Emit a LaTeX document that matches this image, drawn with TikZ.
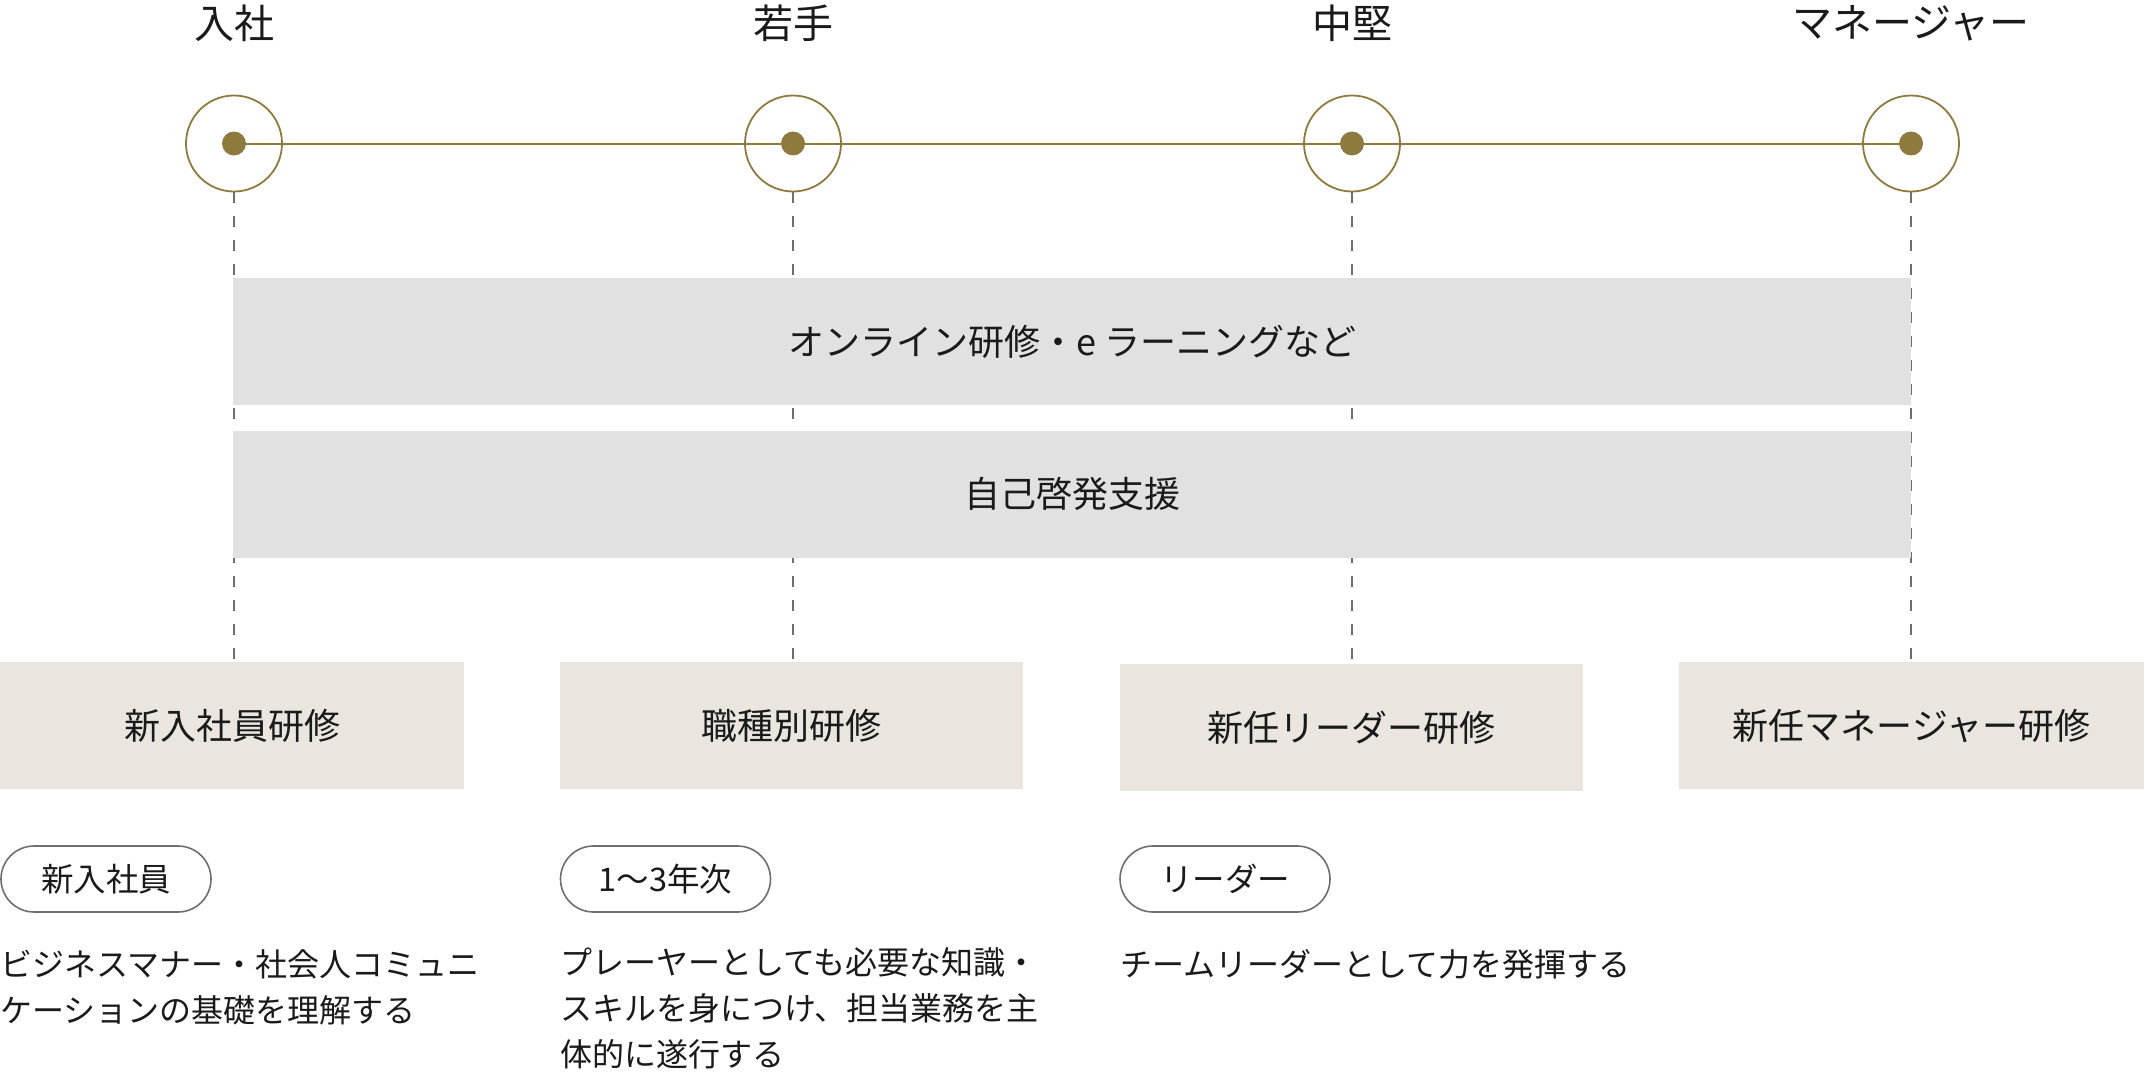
\documentclass[tikz,border=0pt]{standalone}
\usepackage{fontspec}
\setmainfont{Noto Sans CJK JP}
\definecolor{gold}{HTML}{8F7A3D}
\definecolor{bandgray}{HTML}{E1E1E1}
\definecolor{beige}{HTML}{EAE6DF}
\definecolor{dashgray}{HTML}{6E6E6E}
\definecolor{txt}{HTML}{1A1A1A}
\tikzset{
  ring/.style={circle, draw=gold, line width=1.8pt, minimum size=96pt, inner sep=0pt},
  dot/.style={circle, fill=gold, minimum size=24pt, inner sep=0pt},
  stage/.style={text=txt, font=\fontsize{40}{46}\selectfont, inner sep=0pt},
  band/.style={fill=bandgray, minimum width=1678pt, minimum height=127pt, inner sep=0pt, text=txt, font=\fontsize{36}{42}\selectfont},
  course/.style={fill=beige, minimum height=127pt, inner sep=0pt, text=txt, font=\fontsize{36}{42}\selectfont},
  pill/.style={draw=dashgray, line width=1.6pt, rounded corners=33pt, minimum width=210pt, minimum height=66pt, inner sep=0pt, text=txt, font=\fontsize{32.5}{38}\selectfont},
  desc/.style={anchor=base west, align=left, inner sep=0pt, text=txt, font=\fontsize{32}{46}\selectfont},
  timeline/.style={draw=gold, line width=2pt},
  guide/.style={draw=dashgray, line width=1.6pt, dash pattern=on 11pt off 13pt}
}
\begin{document}
\begin{tikzpicture}[x=1pt,y=-1pt]
\useasboundingbox (0,0) rectangle (2144,1076);
% stage labels
\node[stage] (s1) at (234,23) {入社};
\node[stage] (s2) at (793,23) {若手};
\node[stage] (s3) at (1352,23) {中堅};
\node[stage] (s4) at (1911,23) {マネージャー};
% rings and dots
\node[ring] (m1) at (234,143.5) {};
\node[ring] (m2) at (793,143.5) {};
\node[ring] (m3) at (1352,143.5) {};
\node[ring] (m4) at (1911,143.5) {};
\node[dot] (d1) at (234,143.5) {};
\node[dot] (d2) at (793,143.5) {};
\node[dot] (d3) at (1352,143.5) {};
\node[dot] (d4) at (1911,143.5) {};
\draw[timeline] (d1) -- (d2);
\draw[timeline] (d2) -- (d3);
\draw[timeline] (d3) -- (d4);
% course boxes
\node[course, minimum width=464pt] (b1) at (232,725.5) {新入社員研修};
\node[course, minimum width=463pt] (b2) at (791.5,725.5) {職種別研修};
\node[course, minimum width=463pt] (b3) at (1351.5,727.5) {新任リーダー研修};
\node[course, minimum width=465pt] (b4) at (1911.5,725.5) {新任マネージャー研修};
% guides
\draw[guide] (m1.south) -- (m1.south |- b1.north);
\draw[guide] (m2.south) -- (m2.south |- b2.north);
\draw[guide] (m3.south) -- (m3.south |- b3.north);
\draw[guide] (m4.south) -- (m4.south |- b4.north);
% bands
\node[band] (e1) at (1072,341.5) {オンライン研修・e ラーニングなど};
\node[band] (e2) at (1072,494) {自己啓発支援};
% pills
\node[pill] (p1) at (106,879) {新入社員};
\node[pill] (p2) at (665.5,879) {1〜3年次};
\node[pill] (p3) at (1225,879) {リーダー};
% descriptions (base anchor sits on the last line)
\node[desc] (t1) at (0,1022) {ビジネスマナー・社会人コミュニ\\ケーションの基礎を理解する};
\node[desc] (t2) at (560,1066) {プレーヤーとしても必要な知識・\\スキルを身につけ、担当業務を主\\体的に遂行する};
\node[desc] (t3) at (1120,976) {チームリーダーとして力を発揮する};
\end{tikzpicture}
\end{document}
